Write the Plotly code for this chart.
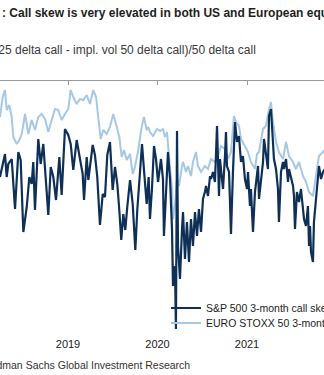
import plotly.graph_objects as go

# ---------------- data (decimal year, call skew) ----------------
spx_t = [2018.240, 2018.296, 2018.315, 2018.333, 2018.371, 2018.408, 2018.445, 2018.471, 2018.501, 2018.539,
         2018.568, 2018.594, 2018.612, 2018.631, 2018.668, 2018.695, 2018.724, 2018.754, 2018.780, 2018.807,
         2018.836, 2018.866, 2018.903, 2018.929, 2018.966, 2019.003, 2019.030, 2019.059, 2019.097, 2019.134,
         2019.164, 2019.179, 2019.209, 2019.227, 2019.254, 2019.276, 2019.301, 2019.327, 2019.357, 2019.388,
         2019.413, 2019.439, 2019.469, 2019.499, 2019.525, 2019.551, 2019.573, 2019.595, 2019.618, 2019.640,
         2019.662, 2019.693, 2019.723, 2019.752, 2019.774, 2019.804, 2019.827, 2019.849, 2019.879, 2019.901,
         2019.916, 2019.938, 2019.961, 2019.983, 2020.006, 2020.039, 2020.061, 2020.072, 2020.095, 2020.117,
         2020.140, 2020.162, 2020.173, 2020.195, 2020.206, 2020.218, 2020.229, 2020.251, 2020.274, 2020.285,
         2020.307, 2020.329, 2020.352, 2020.374, 2020.396, 2020.419, 2020.441, 2020.463, 2020.486, 2020.508,
         2020.530, 2020.542, 2020.564, 2020.587, 2020.598, 2020.620, 2020.642, 2020.653, 2020.665, 2020.687,
         2020.698, 2020.720, 2020.732, 2020.754, 2020.765, 2020.776, 2020.799, 2020.810, 2020.821, 2020.843,
         2020.854, 2020.866, 2020.888, 2020.910, 2020.933, 2020.955, 2020.977, 2021.000, 2021.011, 2021.033,
         2021.044, 2021.067, 2021.089, 2021.111, 2021.123, 2021.134, 2021.156, 2021.179, 2021.190, 2021.212,
         2021.234, 2021.246, 2021.268, 2021.290, 2021.301, 2021.324, 2021.346, 2021.357, 2021.380, 2021.402,
         2021.413, 2021.436, 2021.458, 2021.469, 2021.491, 2021.514, 2021.525, 2021.536, 2021.558, 2021.581,
         2021.603, 2021.625, 2021.637, 2021.659, 2021.681, 2021.693, 2021.704, 2021.715, 2021.737, 2021.748,
         2021.771, 2021.793, 2021.804, 2021.827, 2021.849, 2021.871]
spx_skew = [-0.096, -0.073, -0.096, -0.083, -0.078, -0.128, -0.071, -0.079, -0.151, -0.126,
            -0.096, -0.103, -0.081, -0.129, -0.058, -0.083, -0.063, -0.099, -0.134, -0.086,
            -0.096, -0.119, -0.076, -0.114, -0.048, -0.054, -0.063, -0.089, -0.059, -0.078,
            -0.093, -0.119, -0.076, -0.099, -0.079, -0.064, -0.074, -0.096, -0.144, -0.113,
            -0.116, -0.074, -0.061, -0.109, -0.086, -0.103, -0.129, -0.159, -0.133, -0.149,
            -0.126, -0.099, -0.123, -0.169, -0.129, -0.086, -0.063, -0.089, -0.123, -0.096,
            -0.138, -0.108, -0.065, -0.078, -0.101, -0.078, -0.098, -0.155, -0.105, -0.071,
            -0.098, -0.148, -0.205, -0.185, -0.248, -0.050, -0.165, -0.198, -0.148, -0.131,
            -0.178, -0.141, -0.181, -0.138, -0.165, -0.131, -0.155, -0.128, -0.151, -0.118,
            -0.111, -0.105, -0.115, -0.095, -0.098, -0.091, -0.101, -0.081, -0.045, -0.115,
            -0.078, -0.098, -0.108, -0.075, -0.051, -0.085, -0.091, -0.121, -0.153, -0.091,
            -0.058, -0.041, -0.061, -0.055, -0.081, -0.075, -0.098, -0.108, -0.091, -0.125,
            -0.108, -0.151, -0.111, -0.093, -0.085, -0.118, -0.098, -0.081, -0.058, -0.075,
            -0.088, -0.035, -0.028, -0.061, -0.078, -0.088, -0.108, -0.141, -0.091, -0.081,
            -0.088, -0.078, -0.101, -0.088, -0.098, -0.105, -0.115, -0.148, -0.111, -0.121,
            -0.108, -0.125, -0.138, -0.145, -0.125, -0.165, -0.145, -0.171, -0.181, -0.141,
            -0.115, -0.091, -0.085, -0.098, -0.091, -0.088]

sx5e_t = [2018.240, 2018.270, 2018.296, 2018.315, 2018.344, 2018.371, 2018.389, 2018.427, 2018.456, 2018.483,
          2018.520, 2018.556, 2018.594, 2018.631, 2018.668, 2018.706, 2018.743, 2018.780, 2018.818, 2018.855,
          2018.891, 2018.929, 2018.966, 2019.003, 2019.030, 2019.059, 2019.097, 2019.134, 2019.171, 2019.209,
          2019.246, 2019.282, 2019.313, 2019.338, 2019.365, 2019.394, 2019.432, 2019.469, 2019.506, 2019.536,
          2019.573, 2019.600, 2019.626, 2019.656, 2019.693, 2019.723, 2019.748, 2019.785, 2019.823, 2019.849,
          2019.879, 2019.897, 2019.916, 2019.950, 2019.994, 2020.028, 2020.061, 2020.084, 2020.106, 2020.128,
          2020.162, 2020.173, 2020.195, 2020.218, 2020.240, 2020.274, 2020.285, 2020.318, 2020.341, 2020.374,
          2020.396, 2020.430, 2020.452, 2020.486, 2020.530, 2020.564, 2020.598, 2020.642, 2020.676, 2020.709,
          2020.754, 2020.787, 2020.821, 2020.854, 2020.877, 2020.910, 2020.933, 2020.977, 2021.011, 2021.044,
          2021.089, 2021.111, 2021.134, 2021.179, 2021.212, 2021.246, 2021.268, 2021.290, 2021.324, 2021.357,
          2021.402, 2021.436, 2021.469, 2021.514, 2021.547, 2021.581, 2021.625, 2021.659, 2021.693, 2021.737,
          2021.771, 2021.793, 2021.804, 2021.849, 2021.871]
sx5e_skew = [-0.036, -0.016, -0.009, -0.029, -0.024, -0.036, -0.056, -0.063, -0.059, -0.053,
             -0.033, -0.053, -0.039, -0.049, -0.036, -0.033, -0.038, -0.051, -0.039, -0.028,
             -0.029, -0.039, -0.033, -0.028, -0.009, -0.016, -0.023, -0.018, -0.019, -0.014,
             -0.023, -0.009, -0.016, -0.039, -0.058, -0.049, -0.053, -0.046, -0.033, -0.043,
             -0.056, -0.076, -0.069, -0.079, -0.073, -0.093, -0.086, -0.069, -0.046, -0.036,
             -0.049, -0.046, -0.051, -0.055, -0.048, -0.050, -0.048, -0.056, -0.051, -0.075,
             -0.108, -0.138, -0.125, -0.098, -0.105, -0.085, -0.081, -0.091, -0.085, -0.095,
             -0.081, -0.071, -0.085, -0.091, -0.085, -0.088, -0.078, -0.081, -0.075, -0.065,
             -0.068, -0.078, -0.071, -0.035, -0.041, -0.045, -0.058, -0.065, -0.071, -0.081,
             -0.088, -0.073, -0.071, -0.048, -0.045, -0.028, -0.021, -0.041, -0.061, -0.071,
             -0.078, -0.061, -0.075, -0.081, -0.088, -0.081, -0.095, -0.101, -0.111, -0.115,
             -0.095, -0.078, -0.075, -0.071, -0.068]

year_ticks = [2019, 2020, 2021]
year_labels = ["2019", "2020", "2021"]

spx_name = "S&P 500 3-month call skew"
sx5e_name = "EURO STOXX 50 3-month call skew"

title_text = "<b>: Call skew is very elevated in both US and European equities</b>"
subtitle_text = "(impl. vol 25 delta call - impl. vol 50 delta call)/50 delta call"
source_text = "Source: Goldman Sachs Global Investment Research"

# ---------------- layout constants ----------------
W, H = 324, 375
T, B = 81, 39
PLOT_H = H - T - B
X_RANGE = [2018.2402, 2021.8603]

def py(p):
    """pixel row -> paper y"""
    return (H - B - p) / PLOT_H

def px(p):
    return p / W

DARK = "#0e2f56"
LIGHT = "#a5c8e6"
SANS = "Liberation Sans, Arial, sans-serif"

fig = go.Figure()
fig.add_trace(go.Scatter(x=sx5e_t, y=sx5e_skew, mode="lines", name=sx5e_name,
                         line=dict(color=LIGHT, width=2), legend="legend2"))
fig.add_trace(go.Scatter(x=spx_t, y=spx_skew, mode="lines", name=spx_name,
                         line=dict(color=DARK, width=2.2), xaxis="x2", legend="legend"))

fig.update_layout(
    width=W, height=H,
    margin=dict(l=0, r=0, t=T, b=B, pad=0, autoexpand=False),
    paper_bgcolor="white", plot_bgcolor="white",
    xaxis=dict(range=X_RANGE, autorange=False, tickvals=year_ticks, ticktext=year_labels,
               showgrid=False, zeroline=False, showline=False, ticks="",
               tickfont=dict(family=SANS, size=11, color="#222"), ticklabelstandoff=0),
    xaxis2=dict(overlaying="x", range=X_RANGE, autorange=False, side="top", anchor="y",
                tickvals=year_ticks, showticklabels=False, showgrid=False, zeroline=False,
                showline=True, linecolor="#9a9a9a", linewidth=1,
                ticks="inside", ticklen=4, tickcolor="#9a9a9a", tickwidth=1),
    yaxis=dict(range=[-PLOT_H / 1000, 0], autorange=False, visible=False,
               showgrid=False, zeroline=False),
    legend=dict(x=px(166), y=py(308), xanchor="left", yanchor="middle",
                bgcolor="rgba(255,255,255,0)", borderwidth=0,
                font=dict(family=SANS, size=10.5, color="#222")),
    legend2=dict(x=px(166), y=py(323), xanchor="left", yanchor="middle",
                 bgcolor="rgba(255,255,255,0)", borderwidth=0,
                 font=dict(family=SANS, size=10.5, color="#222")),
    showlegend=True,
)

fig.add_annotation(text=title_text, xref="paper", yref="paper", x=px(0), y=py(13),
                   xanchor="left", yanchor="middle", showarrow=False, align="left",
                   font=dict(family=SANS, size=12, color="#1e1e1e"))
fig.add_annotation(text=subtitle_text, xref="paper", yref="paper", x=px(258), y=py(50),
                   xanchor="right", yanchor="middle", showarrow=False, align="right",
                   font=dict(family=SANS, size=12, color="#3a3a3a"))
fig.add_annotation(text=source_text, xref="paper", yref="paper", x=px(192), y=py(364.5),
                   xanchor="right", yanchor="middle", showarrow=False, align="right",
                   font=dict(family=SANS, size=10.5, color="#333"))

fig.write_html("out.html")
